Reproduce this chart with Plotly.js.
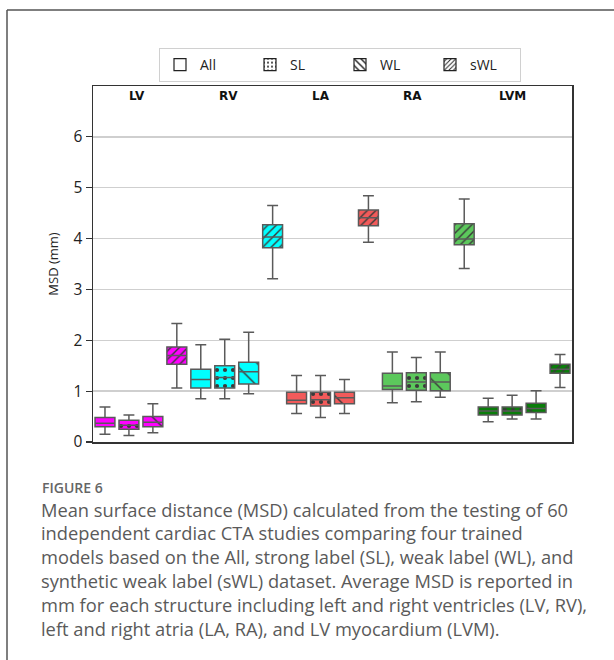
<!DOCTYPE html>
<html>
<head>
<meta charset="utf-8">
<script src="https://cdn.plot.ly/plotly-3.0.1.min.js"></script>
<style>
  html, body { margin: 0; padding: 0; background: #fff; }
  #chart { width: 614px; height: 660px; }
</style>
</head>
<body>
<div id="chart"></div>
<script>
// ---------------- data ----------------
var structures = ['LV', 'RV', 'LA', 'RA', 'LVM'];
var models = ['All', 'SL', 'WL', 'sWL'];

// per model, values for [LV, RV, LA, RA, LVM]
var upperAll = [0.69, 1.91, 1.31, 1.77, 0.86];
var q3All    = [0.48, 1.43, 0.98, 1.35, 0.69];
var medAll   = [0.37, 1.23, 0.82, 1.10, 0.61];
var q1All    = [0.30, 1.06, 0.75, 1.03, 0.53];
var lowerAll = [0.15, 0.85, 0.56, 0.77, 0.40];

var upperSL = [0.53, 2.02, 1.31, 1.66, 0.92];
var q3SL    = [0.43, 1.50, 0.98, 1.36, 0.69];
var medSL   = [0.33, 1.27, 0.83, 1.18, 0.61];
var q1SL    = [0.25, 1.06, 0.71, 1.02, 0.53];
var lowerSL = [0.13, 0.85, 0.48, 0.79, 0.45];

var upperWL = [0.75, 2.16, 1.23, 1.77, 1.01];
var q3WL    = [0.50, 1.57, 0.98, 1.36, 0.76];
var medWL   = [0.39, 1.38, 0.87, 1.18, 0.66];
var q1WL    = [0.30, 1.14, 0.75, 1.01, 0.58];
var lowerWL = [0.18, 0.95, 0.56, 0.88, 0.45];

var upperSWL = [2.33, 4.65, 4.84, 4.78, 1.72];
var q3SWL    = [1.87, 4.27, 4.56, 4.29, 1.53];
var medSWL   = [1.70, 4.03, 4.41, 3.99, 1.43];
var q1SWL    = [1.53, 3.82, 4.25, 3.88, 1.35];
var lowerSWL = [1.06, 3.21, 3.93, 3.41, 1.07];

var yTicks = [0, 1, 2, 3, 4, 5, 6];

var captionTitle = 'FIGURE 6';
var captionLines = [
  'Mean surface distance (MSD) calculated from the testing of 60',
  'independent cardiac CTA studies comparing four trained',
  'models based on the All, strong label (SL), weak label (WL), and',
  'synthetic weak label (sWL) dataset. Average MSD is reported in',
  'mm for each structure including left and right ventricles (LV, RV),',
  'left and right atria (LA, RA), and LV myocardium (LVM).'
];

// ---------------- styling ----------------
var structColors = ['#ff00ff', '#00ffff', '#f25a5a', '#5cc85c', '#0a7d0a'];
var patternShapes = ['', '.', '\\', '/'];
var patternSizes  = [8, 8, 16, 6];
var patternSolid  = [0.2, 0.22, 0.09, 0.24];
var hatchColor = '#3a3a3a';
var boxWidth = 0.83;

var stats = {
  All: [upperAll, q3All, medAll, q1All, lowerAll],
  SL:  [upperSL, q3SL, medSL, q1SL, lowerSL],
  WL:  [upperWL, q3WL, medWL, q1WL, lowerWL],
  sWL: [upperSWL, q3SWL, medSWL, q1SWL, lowerSWL]
};

// plot-area geometry (pixels)
var W = 614, H = 660;
var mL = 93, mR = 42, mT = 86, mB = 218;
var pw = W - mL - mR, ph = H - mT - mB;
function px2x(px) { return (px - mL) / pw; }
function px2y(py) { return (H - mB - py) / ph; }

var traces = [];

// coloured box bodies, one bar trace per model
models.forEach(function (m, mi) {
  var s = stats[m];
  var xs = structures.map(function (_, si) { return si * models.length + mi; });
  var heights = s[1].map(function (v, i) { return v - s[3][i]; });
  traces.push({
    type: 'bar', x: xs, base: s[3], y: heights, width: boxWidth,
    marker: { color: structColors, line: { width: 0 } },
    showlegend: false, hoverinfo: 'skip'
  });
});
// hatching laid over the bodies
models.forEach(function (m, mi) {
  if (!patternShapes[mi]) return;
  var s = stats[m];
  var xs = structures.map(function (_, si) { return si * models.length + mi; });
  var heights = s[1].map(function (v, i) { return v - s[3][i]; });
  traces.push({
    type: 'bar', x: xs, base: s[3], y: heights, width: boxWidth,
    marker: {
      color: hatchColor, line: { width: 0 },
      pattern: { shape: patternShapes[mi], size: patternSizes[mi],
                 solidity: patternSolid[mi], fillmode: 'replace' }
    },
    showlegend: false, hoverinfo: 'skip'
  });
});

// outlines, medians and whiskers, one box trace with all 20 positions
var bx = [], bq1 = [], bmed = [], bq3 = [], blo = [], bhi = [];
structures.forEach(function (_, si) {
  models.forEach(function (m, mi) {
    var s = stats[m];
    bx.push(si * models.length + mi);
    bhi.push(s[0][si]); bq3.push(s[1][si]); bmed.push(s[2][si]);
    bq1.push(s[3][si]); blo.push(s[4][si]);
  });
});
traces.push({
  type: 'box',
  x: bx, q1: bq1, median: bmed, q3: bq3, lowerfence: blo, upperfence: bhi,
  width: boxWidth,
  whiskerwidth: 0.55,
  fillcolor: 'rgba(0,0,0,0)',
  line: { color: '#5a5a5a', width: 1.5 },
  boxpoints: false,
  showlegend: false,
  hoverinfo: 'skip'
});

// legend entries
models.forEach(function (m, mi) {
  var mk = { color: '#ffffff', line: { color: '#222', width: 1.2 } };
  if (patternShapes[mi]) {
    mk = { color: '#222', line: { color: '#222', width: 1.2 },
           pattern: { shape: patternShapes[mi], size: mi === 2 ? 6 : (mi === 1 ? 5 : 4),
                      solidity: mi === 1 ? 0.2 : 0.3, fillmode: 'replace' } };
  }
  traces.push({
    type: 'bar', x: [null], y: [null], name: m, marker: mk,
    showlegend: true, hoverinfo: 'skip'
  });
});

// annotations
var labelX = [1.35, 5.15, 9.0, 12.85, 17.0];
var annotations = structures.map(function (s, i) {
  return {
    text: s, x: labelX[i], xref: 'x', y: px2y(96), yref: 'paper',
    showarrow: false, xanchor: 'center', yanchor: 'middle',
    font: { family: 'DejaVu Sans', size: 12, color: '#111', weight: 'bold' }
  };
});
annotations.push({
  text: captionTitle, x: px2x(40), xref: 'paper', y: px2y(487), yref: 'paper',
  showarrow: false, xanchor: 'left', yanchor: 'middle',
  font: { family: 'Open Sans', size: 14, color: '#666', weight: 600 }
});
captionLines.forEach(function (t, i) {
  annotations.push({
    text: t, x: px2x(39), xref: 'paper', y: px2y(509 + i * 23.8), yref: 'paper',
    showarrow: false, xanchor: 'left', yanchor: 'middle',
    font: { family: 'Open Sans', size: 18.3, color: '#5a5a5a' }
  });
});

var frameColor = '#555';
var shapes = [
  { type: 'line', xref: 'paper', yref: 'paper',
    x0: px2x(7), x1: px2x(614), y0: px2y(10), y1: px2y(10),
    line: { color: frameColor, width: 1.5 } },
  { type: 'line', xref: 'paper', yref: 'paper',
    x0: px2x(7), x1: px2x(7), y0: px2y(10), y1: px2y(660),
    line: { color: frameColor, width: 1.5 } }
];

var layout = {
  width: W, height: H,
  margin: { l: mL, r: mR, t: mT, b: mB, pad: 0 },
  paper_bgcolor: '#fff', plot_bgcolor: '#fff',
  barmode: 'overlay', boxmode: 'overlay',
  font: { family: 'Open Sans', color: '#333' },
  xaxis: {
    range: [-0.5, 19.5], showgrid: false, zeroline: false,
    showticklabels: false, ticks: '',
    showline: true, mirror: true, linecolor: '#333', linewidth: 1.5,
    fixedrange: true
  },
  yaxis: {
    range: [0, 7], tickvals: yTicks, ticktext: yTicks.map(String),
    showgrid: true, gridcolor: '#cfcfcf', gridwidth: 1.5, zeroline: false,
    ticks: 'outside', ticklen: 6, tickwidth: 1.2, tickcolor: '#333',
    tickfont: { family: 'Open Sans', size: 15.5, color: '#222' },
    showline: true, mirror: true, linecolor: '#333', linewidth: 1.5,
    title: { text: 'MSD (mm)', font: { family: 'Open Sans', size: 13, color: '#222' }, standoff: 12 },
    fixedrange: true
  },
  legend: {
    orientation: 'h', x: px2x(340), xanchor: 'center',
    y: px2y(48), yanchor: 'top',
    bordercolor: '#d0d0d0', borderwidth: 1, bgcolor: '#fff',
    font: { family: 'Open Sans', size: 14, color: '#222' },
    entrywidth: 45, entrywidthmode: 'pixels',
    traceorder: 'normal'
  },
  annotations: annotations,
  shapes: shapes,
  showlegend: true
};

Plotly.newPlot('chart', traces, layout, { displayModeBar: false, staticPlot: true });
</script>
</body>
</html>
